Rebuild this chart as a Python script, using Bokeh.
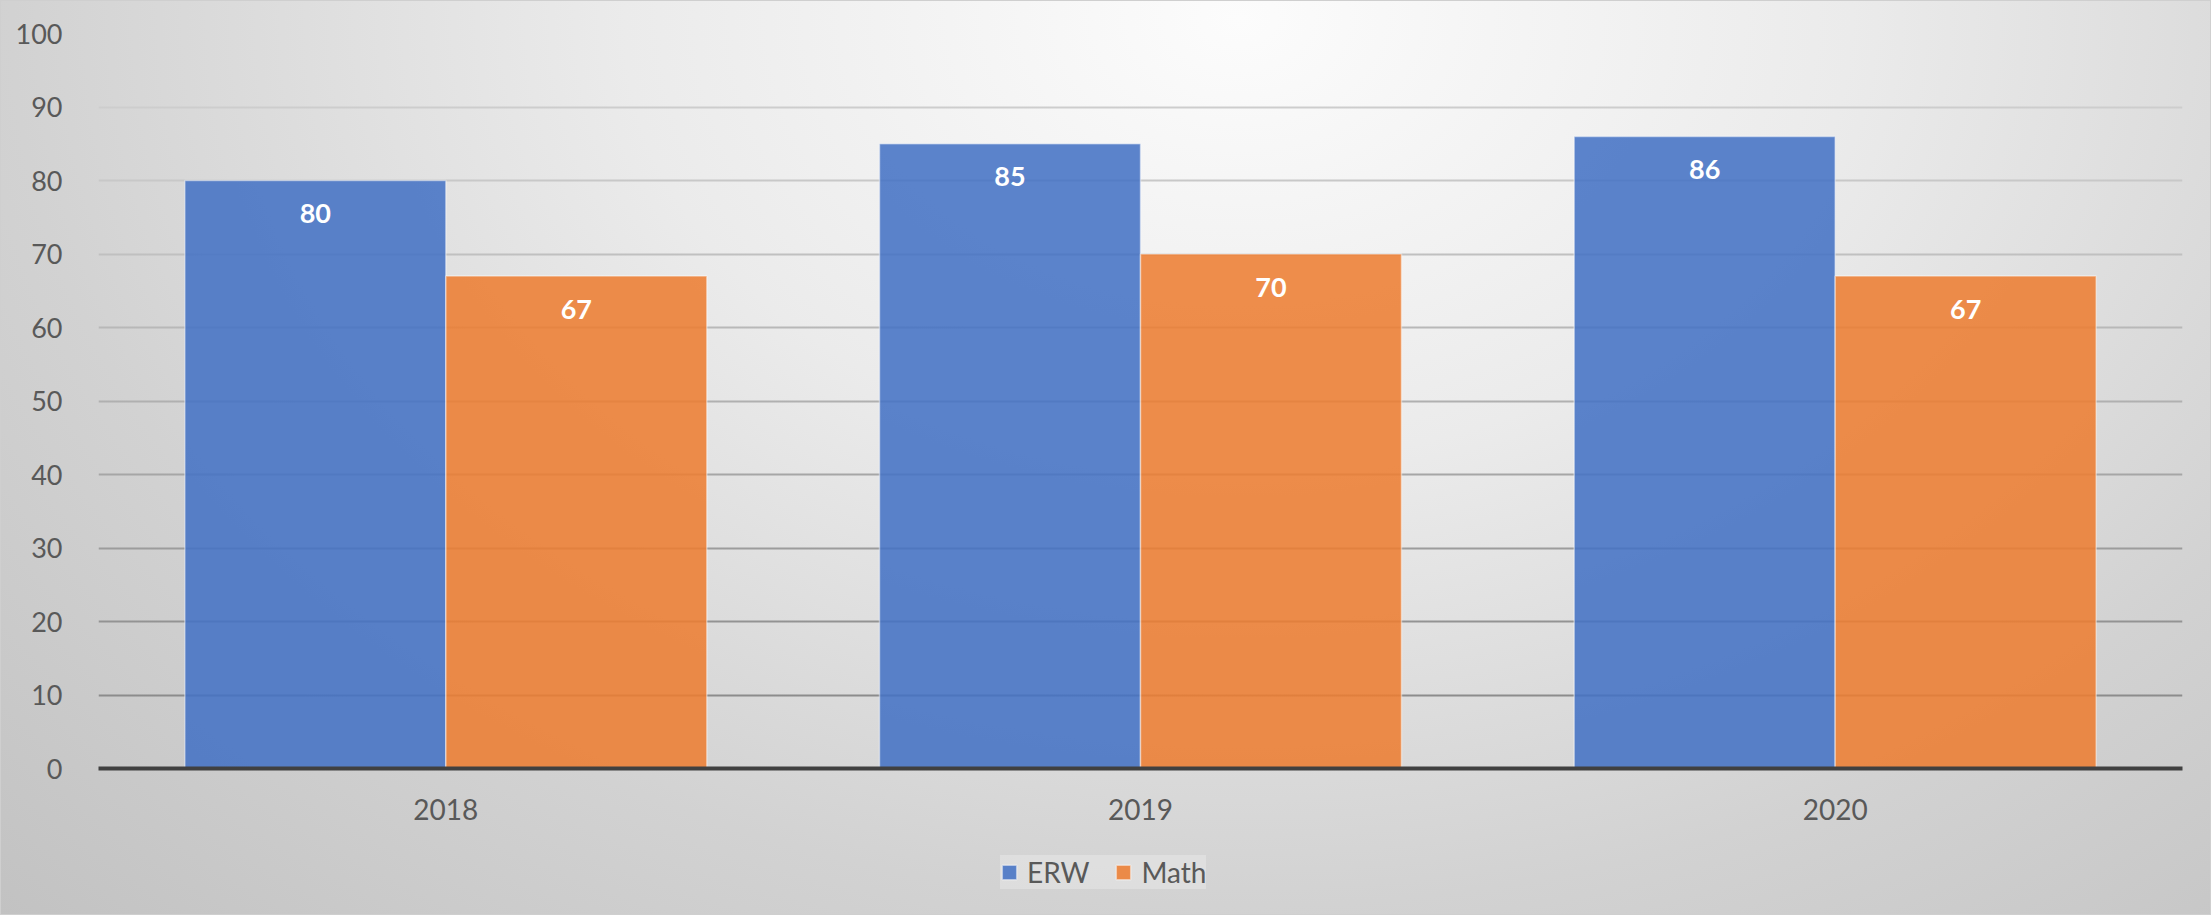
from bokeh.plotting import figure
from bokeh.layouts import column
from bokeh.models import (FactorRange, Range1d, ColumnDataSource, Legend, LegendItem,
                          FixedTicker, Grid)
from bokeh.transform import dodge
from bokeh.core.properties import value
from bokeh.embed import file_html
from bokeh.resources import INLINE

# ---- data ----
years = ["2018", "2019", "2020"]
series = ["ERW", "Math"]
erw = [80, 85, 86]
math_scores = [67, 70, 67]
y_ticks = [0, 10, 20, 30, 40, 50, 60, 70, 80, 90, 100]

# ---- styles ----
BLUE = "#4472C4"
ORANGE = "#ED7D31"
FONT = "Lato"
TXT = "#595959"
grid_ticks = [10, 20, 30, 40, 50, 60, 70, 80, 90, 100]
grid_colors = ["#8c8c8c", "#939393", "#9c9c9c", "#a6a6a6", "#b0b0b0",
               "#b8b8b8", "#c0c0c0", "#c8c8c8", "#cdcdcd", "#d2d2d2"]

src = ColumnDataSource(dict(
    year=years,
    erw=erw,
    math=math_scores,
    erw_lbl=[str(v) for v in erw],
    math_lbl=[str(v) for v in math_scores],
))

W = 0.3757
OFF = W / 2

# ---- main chart ----
p = figure(
    x_range=FactorRange(factors=years, range_padding=0),
    y_range=Range1d(0, 100),
    width=2211, height=830,
    output_backend="svg", toolbar_location=None,
    min_border_left=98, min_border_right=29, min_border_top=33, min_border_bottom=62,
)
p.title.visible = False
p.background_fill_color = None
p.border_fill_color = None
p.outline_line_color = None

p.xgrid.grid_line_color = None
p.ygrid.grid_line_color = None
for t, c in zip(grid_ticks, grid_colors):
    p.add_layout(Grid(dimension=1, ticker=FixedTicker(ticks=[t]),
                      grid_line_color=c, grid_line_width=2))

bar_kw = dict(bottom=0, width=W, source=src, fill_alpha=0.87,
              line_color="#ffffff", line_alpha=0.45, line_width=1.5)
p.vbar(x=dodge("year", -OFF, range=p.x_range), top="erw", fill_color=BLUE, **bar_kw)
p.vbar(x=dodge("year", OFF, range=p.x_range), top="math", fill_color=ORANGE, **bar_kw)

lbl_kw = dict(text_align="center", text_baseline="middle", text_font=value(FONT),
              text_font_style="bold", text_font_size="27px", text_color="white",
              y_offset=33, source=src)
p.text(x=dodge("year", -OFF, range=p.x_range), y="erw", text="erw_lbl", **lbl_kw)
p.text(x=dodge("year", OFF, range=p.x_range), y="math", text="math_lbl", **lbl_kw)

p.yaxis.ticker = FixedTicker(ticks=y_ticks)
p.yaxis.axis_line_color = None
p.yaxis.major_tick_line_color = None
p.yaxis.minor_tick_line_color = None
p.yaxis.major_label_standoff = 30
p.yaxis.major_label_text_font = FONT
p.yaxis.major_label_text_font_size = "27px"
p.yaxis.major_label_text_color = TXT

p.xaxis.axis_line_color = "#404040"
p.xaxis.axis_line_width = 4
p.xaxis.major_tick_line_color = None
p.xaxis.minor_tick_line_color = None
p.xaxis.major_label_standoff = 24
p.xaxis.major_label_text_font = FONT
p.xaxis.major_label_text_font_size = "28px"
p.xaxis.major_label_text_color = TXT

# ---- legend strip (same series, hidden renderers so only the legend shows) ----
q = figure(
    x_range=FactorRange(factors=years, range_padding=0), y_range=Range1d(0, 100),
    width=2211, height=85,
    output_backend="svg", toolbar_location=None,
    x_axis_location=None, y_axis_location=None,
    min_border=0,
)
q.title.visible = False
q.background_fill_color = None
q.border_fill_color = None
q.outline_line_color = None
q.xgrid.visible = False
q.ygrid.visible = False
k_erw = q.vbar(x=dodge("year", -OFF, range=q.x_range), top="erw", fill_color=BLUE, **bar_kw)
k_math = q.vbar(x=dodge("year", OFF, range=q.x_range), top="math", fill_color=ORANGE, **bar_kw)
k_erw.visible = False
k_math.visible = False

legend = Legend(
    items=[LegendItem(label=series[0], renderers=[k_erw]),
           LegendItem(label=series[1], renderers=[k_math])],
    orientation="horizontal", location=(902, 26),
    label_text_font=FONT, label_text_font_size="28px", label_text_color=TXT,
    glyph_width=18, glyph_height=18, label_standoff=9, spacing=25,
    padding=10, margin=0,
    background_fill_color="#ffffff", background_fill_alpha=0.25,
    border_line_color=None,
    inactive_fill_alpha=0.0,
)
q.add_layout(legend, "center")

layout = column(p, q, spacing=0)
layout.styles = {
    "background-image": "radial-gradient(ellipse farthest-corner at 56% 2%, #fcfcfc 0%, #ebebeb 35%, #d2d2d2 70%, #c2c2c2 100%)",
    "outline": "1px solid #cfcfcf",
    "outline-offset": "-1px",
}

open("out.html", "w").write(file_html(layout, INLINE))
